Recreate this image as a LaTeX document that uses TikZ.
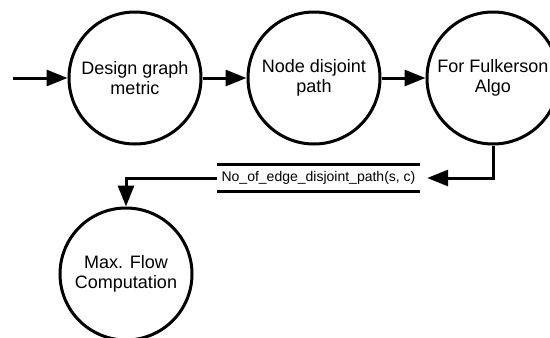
\documentclass[tikz,border=0pt]{standalone}
\usepackage{fontspec}
\setmainfont{Liberation Sans}
\usetikzlibrary{arrows.meta}
\begin{document}
\begin{tikzpicture}[x=1pt,y=-1pt,
  proc/.style={circle,draw,line width=3pt,minimum size=132pt,inner sep=0pt,align=center,
    font=\fontsize{18pt}{20pt}\selectfont},
  flow/.style={line width=3pt,-{Triangle[length=21pt,width=16pt]}},
  plain/.style={line width=3pt},
  store/.style={minimum width=203pt,minimum height=27pt,inner xsep=0pt,inner ysep=0pt,
    font=\fontsize{14pt}{15pt}\selectfont}]
\useasboundingbox (0,0) rectangle (550,338);
\node[proc] (c1) at (135,78) {Design graph\\metric};
\node[proc] (c2) at (314,78) {Node disjoint\\path};
\node[proc] (c3) at (493,78) {For Fulkerson\\Algo};
\node[proc] (c4) at (126,274) {Max. Flow\\Computation};
\node[store] (ds) at (318.5,178) {No\_of\_edge\_disjoint\_path(s, c)};
\draw[plain] (ds.north west) -- (ds.north east);
\draw[plain] (ds.south west) -- (ds.south east);
\coordinate (in) at (13,78);
\draw[flow] (in) -- (c1);
\draw[flow] (c1) -- (c2);
\draw[flow] (c2) -- (c3);
\draw[flow,shorten >=7pt] (c3.south) |- (ds.east);
\draw[flow] (ds.west) -| (c4.north);
\end{tikzpicture}
\end{document}
